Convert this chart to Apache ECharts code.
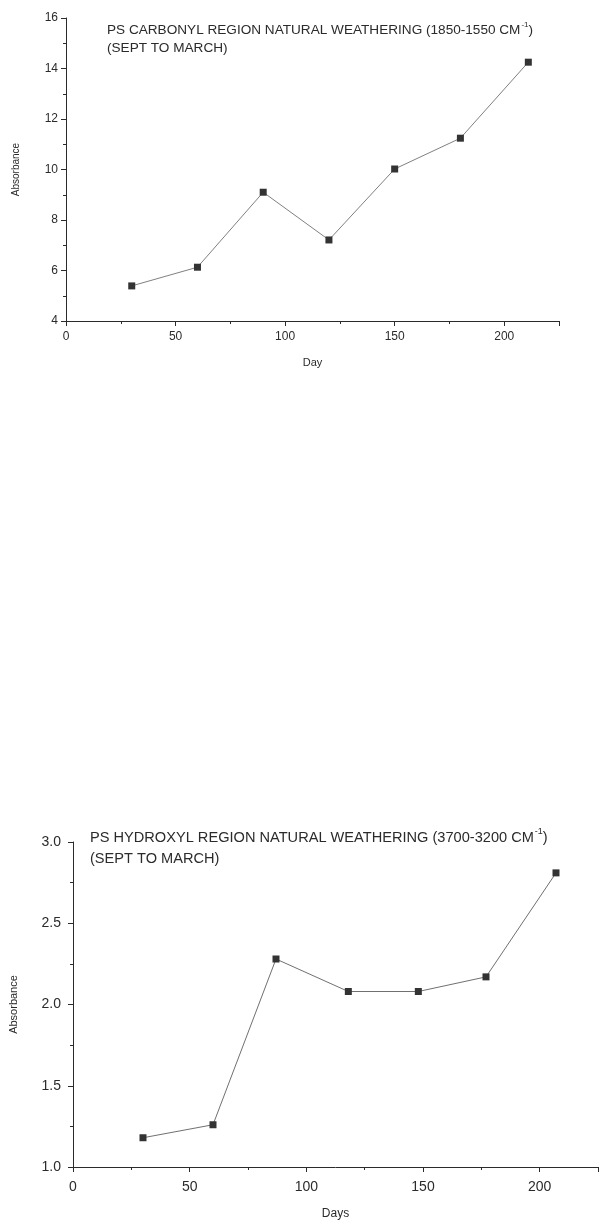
<!DOCTYPE html>
<html>
<head>
<meta charset="utf-8">
<script src="https://cdn.jsdelivr.net/npm/echarts@6/dist/echarts.min.js"></script>
<style>
  html, body { margin: 0; padding: 0; background: #fff; }
  #chart { width: 601px; height: 1224px; }
</style>
</head>
<body>
<div id="chart"></div>
<script>
// Carbonyl region absorbance (1850-1550 cm-1) vs. day
const carbonylDays = [30, 60, 90, 120, 150, 180, 211];
const carbonylAbs = [5.39, 6.13, 9.10, 7.21, 10.02, 11.24, 14.25];

// Hydroxyl region absorbance (3700-3200 cm-1) vs. day
const hydroxylDays = [30, 60, 87, 118, 148, 177, 207];
const hydroxylAbs = [1.18, 1.26, 2.28, 2.08, 2.08, 2.17, 2.81];

const FONT = '"Liberation Sans", Arial, sans-serif';
const INK = '#2b2b2b';

function pairs(xs, ys) {
  return xs.map((x, i) => [x, ys[i]]);
}

function titleRich(size) {
  return {
    t: { fontFamily: FONT, fontSize: size, fontWeight: 'normal', color: INK },
    s: { fontFamily: FONT, fontSize: Math.round(size * 0.62), fontWeight: 'normal', color: INK,
         verticalAlign: 'top', padding: [0, 0, 6, 1] }
  };
}

function valueAxis(opts) {
  return Object.assign({
    type: 'value',
    axisLine: { show: true, lineStyle: { color: INK, width: 1 } },
    axisTick: { show: true, inside: false, length: 5, lineStyle: { color: INK } },
    minorTick: { show: true, splitNumber: 2, length: 3, lineStyle: { color: INK } },
    splitLine: { show: false },
    axisLabel: { fontFamily: FONT, fontSize: 12, color: INK },
    nameTextStyle: { fontFamily: FONT, color: INK }
  }, opts);
}

const chart = echarts.init(document.getElementById('chart'), null, { renderer: 'canvas' });

chart.setOption({
  backgroundColor: '#ffffff',
  animation: false,
  title: [
    {
      left: 107, top: 21, padding: 0,
      text: '{t|PS CARBONYL REGION NATURAL WEATHERING (1850-1550 CM}{s|-1}{t|)}\n{t|(SEPT TO MARCH)}',
      textStyle: { fontWeight: 'normal', rich: titleRich(13.6), lineHeight: 18 }
    },
    {
      left: 90, top: 827, padding: 0,
      text: '{t|PS HYDROXYL REGION NATURAL WEATHERING (3700-3200 CM}{s|-1}{t|)}\n{t|(SEPT TO MARCH)}',
      textStyle: { fontWeight: 'normal', rich: titleRich(14.6), lineHeight: 21 }
    }
  ],
  grid: [
    { left: 66, right: 42, top: 18, height: 303 },
    { left: 72, right: 0, top: 842, height: 325 }
  ],
  xAxis: [
    valueAxis({
      gridIndex: 0, min: 0, max: 225, interval: 50,
      name: 'Day', nameLocation: 'middle', nameGap: 36,
      nameTextStyle: { fontFamily: FONT, fontSize: 11, color: INK },
      axisLabel: { fontFamily: FONT, fontSize: 12, color: INK, margin: 10,
        formatter: v => (v % 50 === 0 ? String(v) : '') }
    }),
    valueAxis({
      gridIndex: 1, min: 0, max: 225, interval: 50,
      name: 'Days', nameLocation: 'middle', nameGap: 41,
      nameTextStyle: { fontFamily: FONT, fontSize: 12, color: INK },
      axisLabel: { fontFamily: FONT, fontSize: 14, color: INK, margin: 13,
        formatter: v => (v % 50 === 0 ? String(v) : '') }
    })
  ],
  yAxis: [
    valueAxis({
      gridIndex: 0, min: 4, max: 16, interval: 2,
      name: 'Absorbance', nameLocation: 'middle', nameGap: 45,
      nameTextStyle: { fontFamily: FONT, fontSize: 10, color: INK },
      axisLabel: { fontFamily: FONT, fontSize: 12, color: INK, margin: 8 }
    }),
    valueAxis({
      gridIndex: 1, min: 1, max: 3, interval: 0.5,
      name: 'Absorbance', nameLocation: 'middle', nameGap: 54,
      nameTextStyle: { fontFamily: FONT, fontSize: 11, color: INK },
      axisLabel: { fontFamily: FONT, fontSize: 14, color: INK, margin: 12,
        formatter: v => v.toFixed(1) }
    })
  ],
  series: [
    {
      type: 'line', xAxisIndex: 0, yAxisIndex: 0,
      data: pairs(carbonylDays, carbonylAbs),
      symbol: 'rect', symbolSize: 7,
      itemStyle: { color: '#333333' },
      lineStyle: { color: '#808080', width: 1 }
    },
    {
      type: 'line', xAxisIndex: 1, yAxisIndex: 1,
      data: pairs(hydroxylDays, hydroxylAbs),
      symbol: 'rect', symbolSize: 7,
      itemStyle: { color: '#333333' },
      lineStyle: { color: '#707070', width: 1 }
    }
  ]
});
</script>
</body>
</html>
